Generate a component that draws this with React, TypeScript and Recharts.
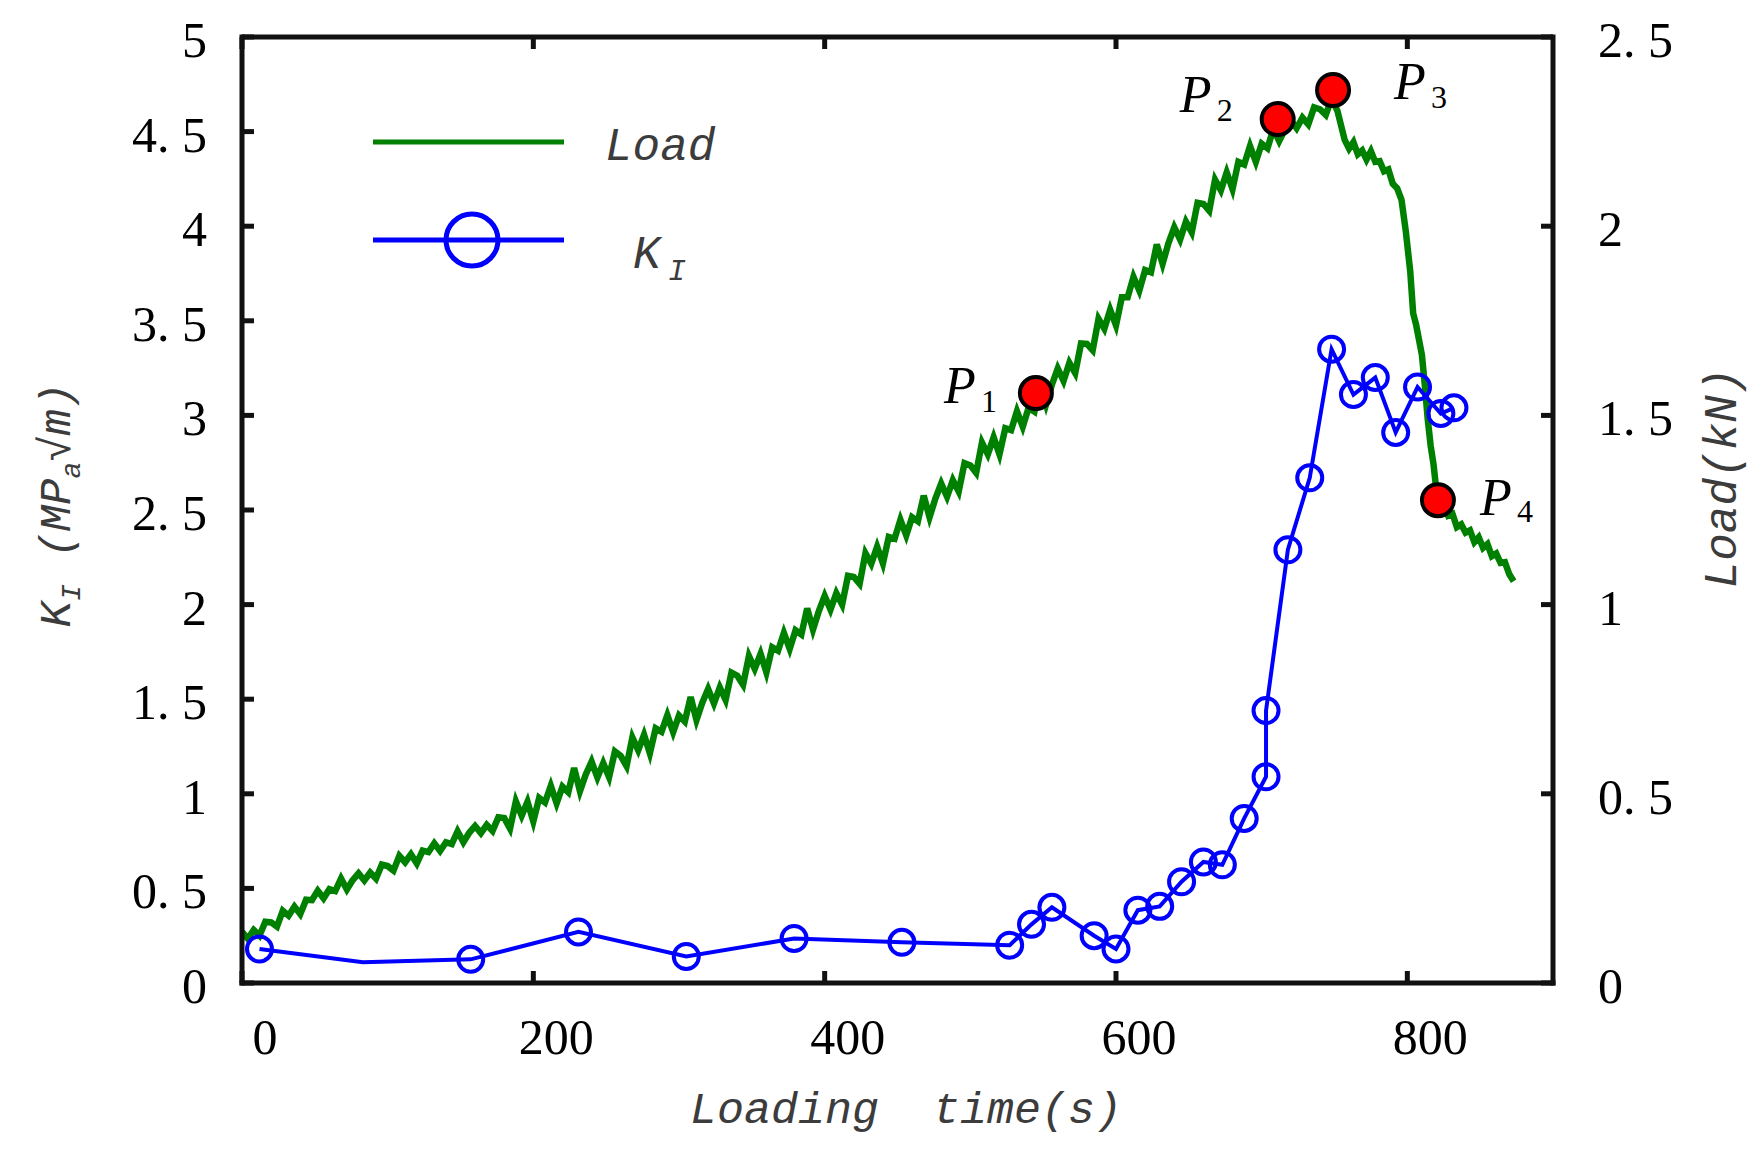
import React from 'react';
import { ComposedChart, Line, XAxis, YAxis, ReferenceLine } from 'recharts';

// loading time (s) / load (kN)
const loadTimes = [
  0, 4, 8, 12, 16, 20, 24, 28, 32, 36, 40, 44, 48, 52, 56, 60, 64, 68, 72, 76,
  80, 84, 88, 92, 96, 100, 104, 108, 112, 116, 120, 124, 128, 132, 136, 140, 144, 148, 152, 156,
  160, 164, 168, 172, 176, 180, 184, 188, 192, 196, 200, 204, 208, 212, 216, 220, 224, 228, 232, 236,
  240, 244, 248, 252, 256, 260, 264, 268, 272, 276, 280, 284, 288, 292, 296, 300, 304, 308, 312, 316,
  320, 324, 328, 332, 336, 340, 344, 348, 352, 356, 360, 364, 368, 372, 376, 380, 384, 388, 392, 396,
  400, 404, 408, 412, 416, 420, 424, 428, 432, 436, 440, 444, 448, 452, 456, 460, 464, 468, 472, 476,
  480, 484, 488, 492, 496, 500, 504, 508, 512, 516, 520, 524, 528, 532, 536, 540, 544, 548, 552, 556,
  560, 564, 568, 572, 576, 580, 584, 588, 592, 596, 600, 604, 608, 612, 616, 620, 624, 628, 632, 636,
  640, 644, 648, 652, 656, 660, 664, 668, 672, 676, 680, 684, 688, 692, 696, 700, 704, 708, 712, 716,
  720, 724, 728, 732, 736, 740, 744, 748, 752, 757, 760, 763, 766, 769, 772, 775, 778, 781, 784, 787,
  790, 793, 796, 799, 802, 804, 806, 808, 810, 812, 814, 816, 818, 820, 822, 825, 828, 831, 834, 837,
  840, 843, 846, 849, 852, 855, 858, 861, 864, 867, 870, 873,
];
const loadValues = [
  0.135, 0.117, 0.14, 0.125, 0.162, 0.16, 0.149, 0.191, 0.178, 0.202, 0.182, 0.22, 0.219, 0.244, 0.224, 0.248, 0.243, 0.276, 0.247, 0.272,
  0.29, 0.271, 0.292, 0.276, 0.313, 0.309, 0.297, 0.336, 0.319, 0.34, 0.316, 0.35, 0.346, 0.369, 0.349, 0.372, 0.367, 0.401, 0.372, 0.397,
  0.415, 0.396, 0.418, 0.402, 0.438, 0.436, 0.408, 0.48, 0.442, 0.479, 0.427, 0.489, 0.477, 0.521, 0.475, 0.519, 0.504, 0.568, 0.507, 0.551,
  0.585, 0.543, 0.581, 0.544, 0.612, 0.6, 0.573, 0.649, 0.615, 0.656, 0.607, 0.673, 0.664, 0.708, 0.663, 0.707, 0.691, 0.756, 0.695, 0.741,
  0.777, 0.739, 0.781, 0.748, 0.82, 0.812, 0.788, 0.864, 0.83, 0.87, 0.821, 0.887, 0.878, 0.925, 0.883, 0.932, 0.921, 0.99, 0.934, 0.983,
  1.023, 0.987, 1.03, 1.0, 1.076, 1.073, 1.055, 1.136, 1.108, 1.153, 1.109, 1.179, 1.174, 1.224, 1.183, 1.231, 1.22, 1.288, 1.231, 1.28,
  1.32, 1.285, 1.329, 1.299, 1.374, 1.368, 1.348, 1.428, 1.397, 1.442, 1.397, 1.466, 1.461, 1.511, 1.47, 1.52, 1.51, 1.582, 1.529, 1.581,
  1.624, 1.591, 1.639, 1.612, 1.69, 1.689, 1.672, 1.755, 1.729, 1.779, 1.738, 1.812, 1.812, 1.866, 1.83, 1.884, 1.878, 1.952, 1.901, 1.955,
  1.997, 1.965, 2.012, 1.984, 2.062, 2.059, 2.041, 2.123, 2.095, 2.142, 2.098, 2.17, 2.163, 2.212, 2.17, 2.218, 2.206, 2.257, 2.225, 2.256,
  2.28, 2.259, 2.287, 2.269, 2.314, 2.309, 2.294, 2.337, 2.305, 2.228, 2.205, 2.222, 2.19, 2.2, 2.176, 2.198, 2.17, 2.172, 2.145, 2.15,
  2.112, 2.1, 2.07, 1.985, 1.88, 1.77, 1.74, 1.7, 1.66, 1.58, 1.49, 1.42, 1.37, 1.3, 1.272, 1.262, 1.235, 1.24, 1.205, 1.212,
  1.19, 1.196, 1.165, 1.178, 1.15, 1.16, 1.128, 1.135, 1.11, 1.112, 1.08, 1.062,
];

// stress intensity factor K_I (MPa·√m)
const kTimes = [12, 83, 157, 231, 305, 379, 453, 527, 542, 556, 585, 600, 615, 630, 645, 660, 673, 688, 703, 703, 718, 733, 748, 763, 778, 792, 807, 823, 832];
const kValues = [0.18, 0.11, 0.125, 0.27, 0.14, 0.235, 0.215, 0.2, 0.31, 0.4, 0.25, 0.18, 0.385, 0.405, 0.535, 0.64, 0.625, 0.87, 1.09, 1.44, 2.29, 2.67, 3.35, 3.11, 3.2, 2.91, 3.15, 3.01, 3.04];
const kUnmarked = [83];

// key points on the load curve
const pNames = ['P1', 'P2', 'P3', 'P4'];
const pTimes = [545, 711, 749, 821];
const pLoads = [1.559, 2.283, 2.36, 1.276];

const xTicks = [0, 200, 400, 600, 800];
const leftTicks = [0, 0.5, 1, 1.5, 2, 2.5, 3, 3.5, 4, 4.5, 5];
const rightTicks = [0, 0.5, 1, 1.5, 2, 2.5];

const loadData = loadTimes.map((t, i) => ({ t, v: loadValues[i] }));
const kData = kTimes.map((t, i) => ({ t, v: kValues[i] }));
const pData = pNames.map((name, i) => ({ name, t: pTimes[i], v: pLoads[i] }));

const W = 1758;
const H = 1151;
const PLOT_H = 946;
const AXIS = '#111';
const SERIF = '"Liberation Serif", "DejaVu Serif", serif';
const MONO = '"Liberation Mono", "DejaVu Sans Mono", monospace';
const TITLE = '#3c3c3c';

const fmt = (v: number) => String(v).replace('.', '. ');

const BottomTick = (props: any) => {
  const { x, y, payload } = props;
  return (
    <g>
      <line x1={x} y1={y} x2={x} y2={y - 12} stroke={AXIS} strokeWidth={5} />
      <line x1={x} y1={y - PLOT_H} x2={x} y2={y - PLOT_H + 12} stroke={AXIS} strokeWidth={5} />
      <text x={x + 23} y={y + 71} textAnchor="middle" fontSize={50} fontFamily={SERIF} fill="#000">
        {payload.value}
      </text>
    </g>
  );
};

const LeftTick = (props: any) => {
  const { x, y, payload } = props;
  return (
    <g>
      <line x1={x} y1={y} x2={x + 12} y2={y} stroke={AXIS} strokeWidth={5} />
      <text x={x - 35} y={y + 20} textAnchor="end" fontSize={50} fontFamily={SERIF} fill="#000">
        {fmt(payload.value)}
      </text>
    </g>
  );
};

const RightTick = (props: any) => {
  const { x, y, payload } = props;
  return (
    <g>
      <line x1={x} y1={y} x2={x - 12} y2={y} stroke={AXIS} strokeWidth={5} />
      <text x={x + 45} y={y + 20} textAnchor="start" fontSize={50} fontFamily={SERIF} fill="#000">
        {fmt(payload.value)}
      </text>
    </g>
  );
};

const renderKDot = (props: any) => {
  const { cx, cy, payload, index } = props;
  if (kUnmarked.includes(payload.t)) return <g key={`k-${index}`} />;
  return <circle key={`k-${index}`} cx={cx} cy={cy} r={12.5} fill="none" stroke="#0000ff" strokeWidth={4} />;
};

// label placement around each key point
const pLabelOffset: Record<string, [number, number, number]> = {
  P1: [-92, 10, 19],
  P2: [-98, -7, 2],
  P3: [61, 9, 18],
  P4: [42, 15, 22],
};

const renderPDot = (props: any) => {
  const { cx, cy, payload, index } = props;
  const [dx, by, sy] = pLabelOffset[payload.name];
  return (
    <g key={`p-${index}`}>
      <circle cx={cx} cy={cy} r={16} fill="#ff0000" stroke="#000" strokeWidth={4} />
      <text x={cx + dx} y={cy + by} fontSize={52} fontStyle="italic" fontFamily={SERIF} fill="#000">
        {payload.name[0]}
      </text>
      <text x={cx + dx + 37} y={cy + sy} fontSize={32} fontFamily={SERIF} fill="#000">
        {payload.name.slice(1)}
      </text>
    </g>
  );
};

export default function App() {
  return (
    <div style={{ position: 'absolute', left: 0, top: 0, width: W, height: H, background: '#fff' }}>
      <ComposedChart width={W} height={H} margin={{ top: 37, right: 0, bottom: 0, left: 0 }}>
        <XAxis
          xAxisId="x"
          dataKey="t"
          type="number"
          domain={[0, 900]}
          ticks={xTicks}
          allowDataOverflow
          height={168}
          tickSize={0}
          tickMargin={0}
          tickLine={false}
          axisLine={{ stroke: AXIS, strokeWidth: 5, strokeLinecap: 'square' }}
          tick={<BottomTick />}
        />
        <YAxis
          yAxisId="left"
          type="number"
          domain={[0, 5]}
          ticks={leftTicks}
          width={242}
          tickSize={0}
          tickMargin={0}
          tickLine={false}
          axisLine={{ stroke: AXIS, strokeWidth: 5, strokeLinecap: 'square' }}
          tick={<LeftTick />}
        />
        <YAxis
          yAxisId="right"
          orientation="right"
          type="number"
          domain={[0, 2.5]}
          ticks={rightTicks}
          width={205}
          tickSize={0}
          tickMargin={0}
          tickLine={false}
          axisLine={{ stroke: AXIS, strokeWidth: 5, strokeLinecap: 'square' }}
          tick={<RightTick />}
        />
        <ReferenceLine xAxisId="x" yAxisId="left" y={5} stroke={AXIS} strokeWidth={5} />
        <Line
          xAxisId="x"
          yAxisId="right"
          data={loadData}
          dataKey="v"
          type="linear"
          stroke="#008000"
          strokeWidth={6.5}
          strokeLinejoin="miter"
          dot={false}
          activeDot={false}
          isAnimationActive={false}
        />
        <Line
          xAxisId="x"
          yAxisId="left"
          data={kData}
          dataKey="v"
          type="linear"
          stroke="#0000ff"
          strokeWidth={4}
          dot={renderKDot}
          activeDot={false}
          isAnimationActive={false}
        />
        <Line
          xAxisId="x"
          yAxisId="right"
          data={pData}
          dataKey="v"
          type="linear"
          stroke="none"
          dot={renderPDot}
          activeDot={false}
          isAnimationActive={false}
        />
      </ComposedChart>

      {/* legend and axis titles */}
      <svg width={W} height={H} style={{ position: 'absolute', left: 0, top: 0, pointerEvents: 'none' }}>
        <line x1={373} y1={142} x2={564} y2={142} stroke="#008000" strokeWidth={5} />
        <text x={605} y={160} fontSize={46} fontStyle="italic" fontFamily={MONO} fill={TITLE}>
          Load
        </text>
        <line x1={373} y1={240} x2={564} y2={240} stroke="#0000ff" strokeWidth={5} />
        <circle cx={472} cy={240} r={26} fill="none" stroke="#0000ff" strokeWidth={5} />
        <text x={633} y={268} fontSize={46} fontStyle="italic" fontFamily={MONO} fill={TITLE}>
          K
        </text>
        <text x={668} y={280} fontSize={30} fontStyle="italic" fontFamily={MONO} fill={TITLE}>
          I
        </text>

        <text x={906} y={1123} textAnchor="middle" fontSize={45} fontStyle="italic" fontFamily={MONO} fill={TITLE} style={{ whiteSpace: 'pre' }}>
          {'Loading  time(s)'}
        </text>

        <text
          transform="translate(1736 478) rotate(-90)"
          textAnchor="middle"
          fontSize={46}
          fontStyle="italic"
          fontFamily={MONO}
          fill={TITLE}
        >
          Load(kN)
        </text>

        <text
          transform="translate(70 505) rotate(-90)"
          textAnchor="middle"
          fontSize={44}
          fontStyle="italic"
          fontFamily={MONO}
          fill={TITLE}
        >
          K<tspan fontSize={28} dy={10}>I</tspan>
          <tspan dy={-10}> (MP</tspan>
          <tspan fontSize={28} dy={10}>a</tspan>
          <tspan dy={-10}>√m)</tspan>
        </text>
      </svg>
    </div>
  );
}
